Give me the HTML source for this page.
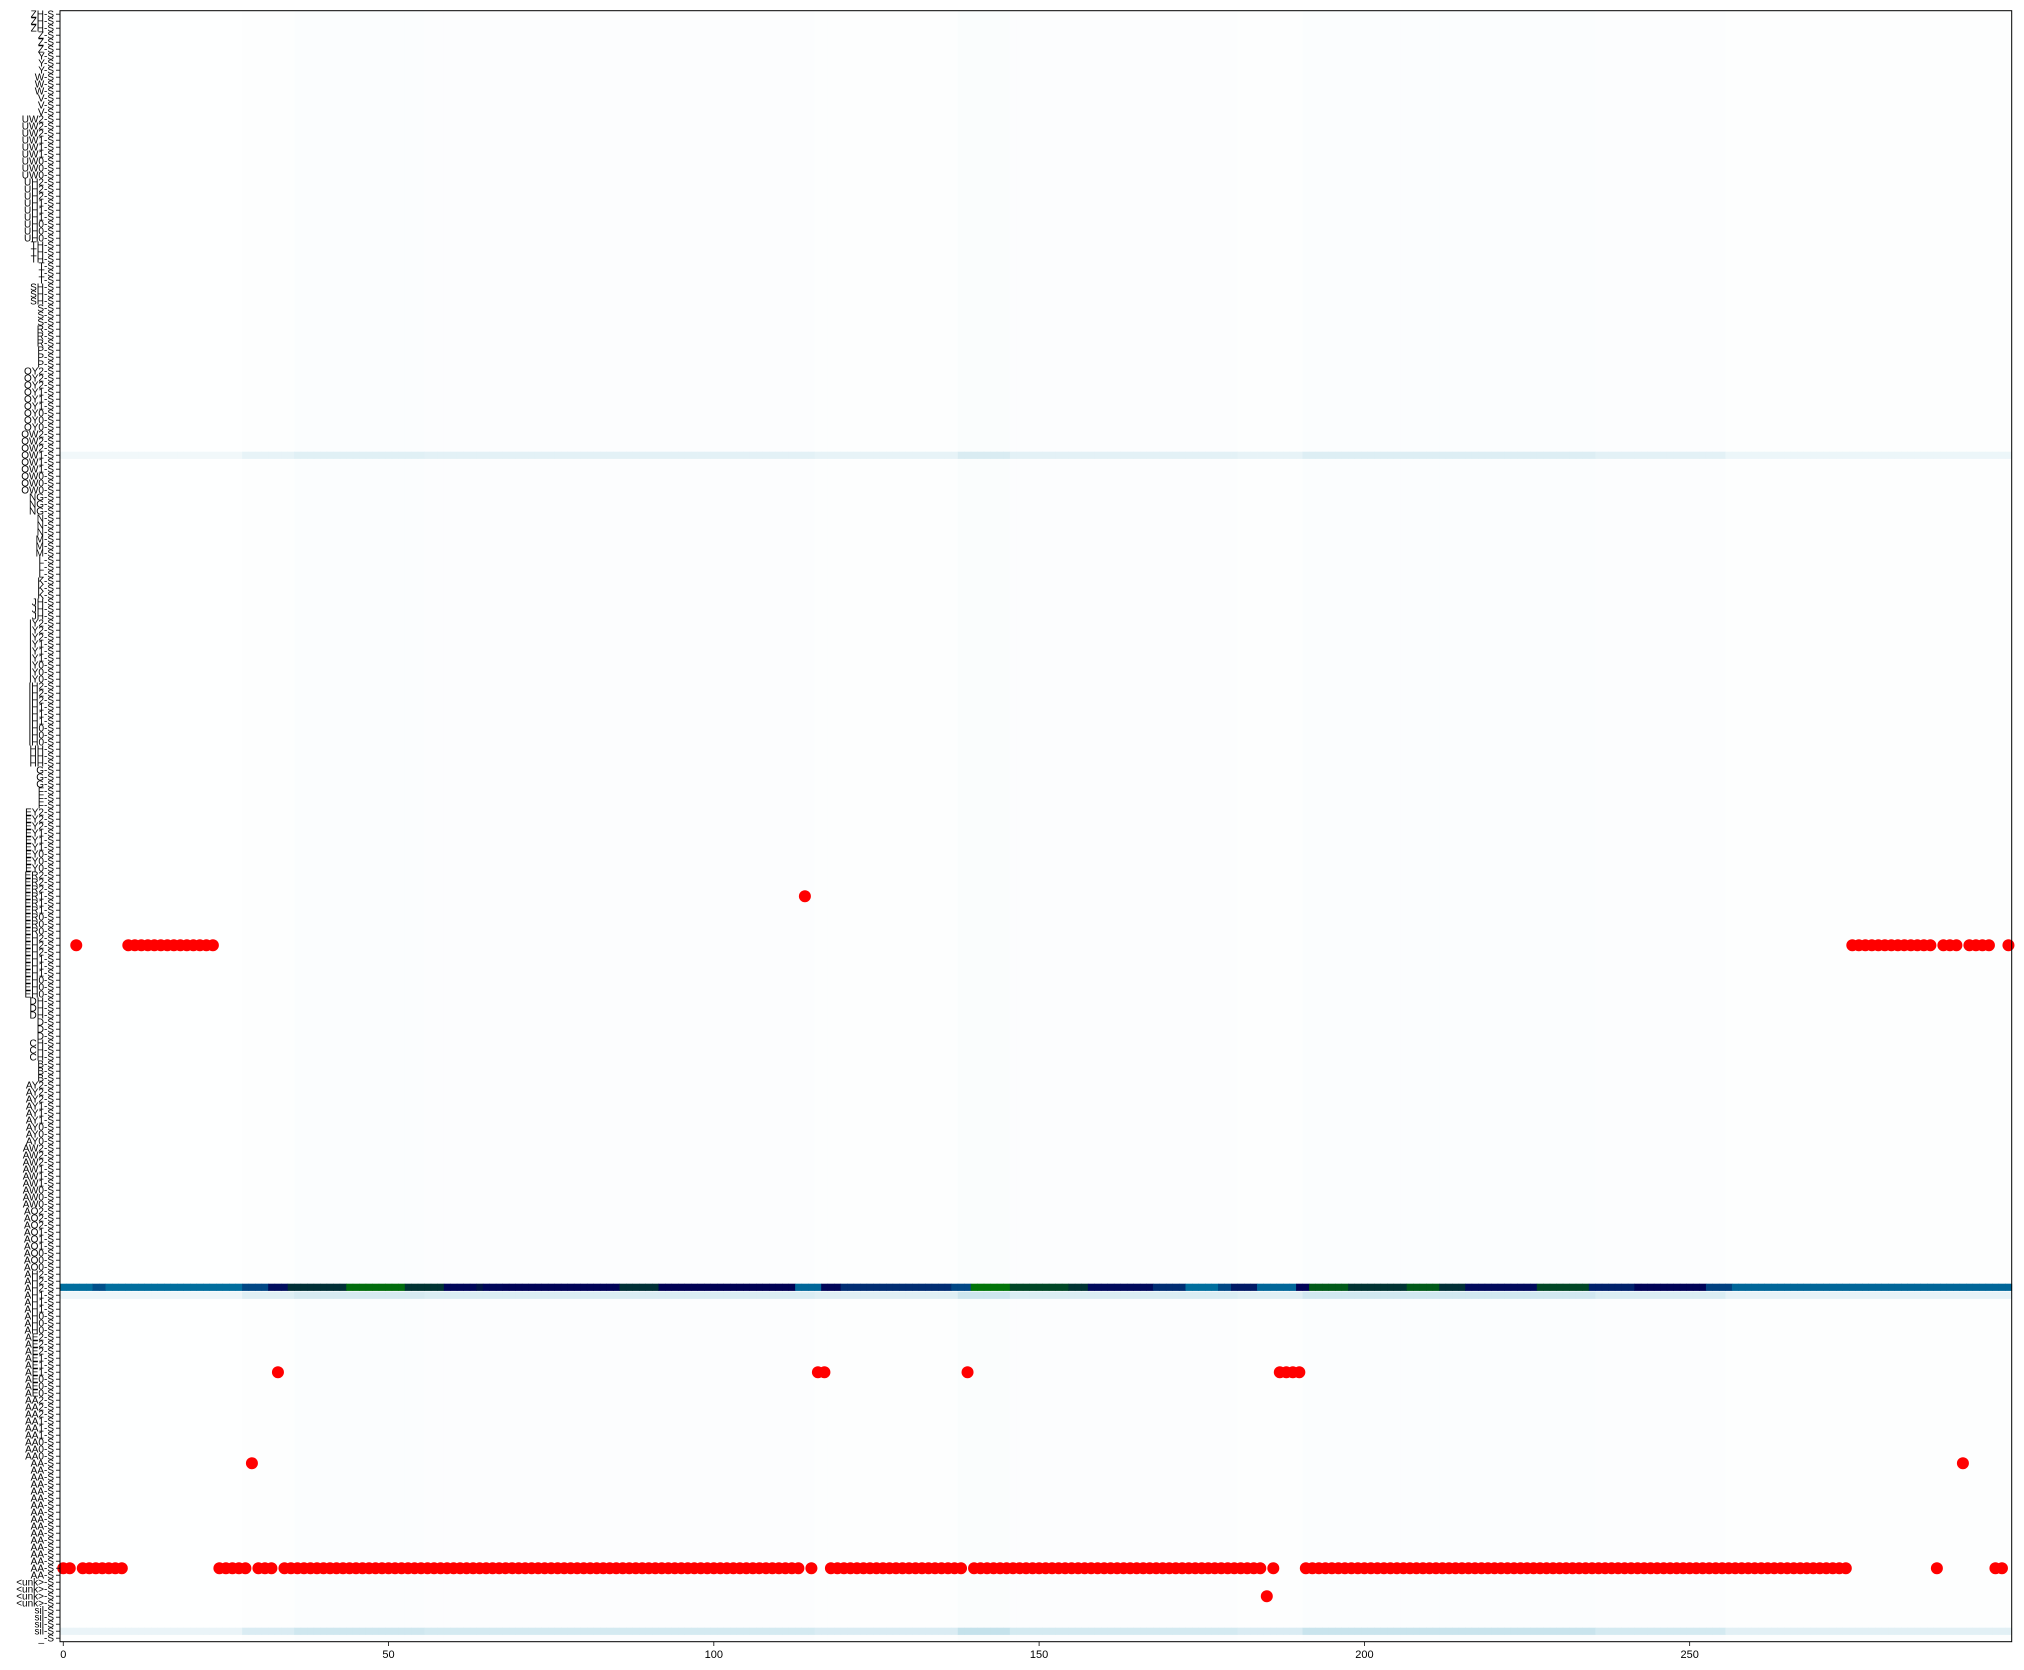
<!DOCTYPE html>
<html><head><meta charset="utf-8"><style>
html,body{margin:0;padding:0;background:#fff;}
svg text{font-family:"Liberation Sans","DejaVu Sans",sans-serif;}
</style></head><body>
<svg id="chart" xmlns="http://www.w3.org/2000/svg" width="2024" height="1665" viewBox="0 0 2024 1665">
<rect width="2024" height="1665" fill="#fff"/>
<g id="bg"></g>
<g id="cells"></g>
<g id="dots"></g>
<g id="yaxis"></g>
<g id="xaxis"></g>
<rect x="60" y="10.7" width="1951.7" height="1631" fill="none" stroke="#000" stroke-width="1"/>
</svg>
<script>
function rep(v,n){return Array(n).fill(v);}
// dark band row values (row 182), one per column
const bandValues = [].concat(
 rep(.38,5),rep(.46,2),rep(.38,21),rep(.48,4),rep(.63,3),rep(.79,9),rep(.95,9),rep(.8,6),
 rep(.65,5),rep(.72,1),rep(.65,3),rep(.66,18),rep(.79,6),rep(.67,21),rep(.40,4),rep(.65,3),
 rep(.55,17),rep(.48,3),rep(.97,6),rep(.85,9),rep(.8,3),rep(.64,10),rep(.55,5),rep(.38,5),
 rep(.48,2),rep(.60,4),rep(.40,6),rep(.66,2),rep(.90,6),rep(.8,9),rep(.90,5),rep(.79,4),
 rep(.64,11),rep(.85,8),rep(.58,7),rep(.66,11),rep(.50,4),rep(.40,43));
// column background level (faint texture)
const colLevel = [].concat(
 rep(.1,28),rep(.4,8),rep(.6,20),rep(.5,60),rep(.4,22),rep(.8,8),rep(.5,35),rep(.4,10),
 rep(.7,45),rep(.5,20),rep(.25,44));
// light rows: row index and intensity
const lightRows = [63,183,231];
const lightRowGain = [0.045,0.06,0.07];
// argmax row per column (red dots)
const argmaxRow = [].concat(
 [222,222,133],rep(222,7),rep(133,14),rep(222,5),[207],rep(222,3),[194],rep(222,80),
 [126,222,194,194],rep(222,21),[194],rep(222,45),[226,222],rep(194,4),rep(222,84),
 rep(133,13),[222],rep(133,3),[207],rep(133,4),[222,222,133]);
const xTicks = [0,50,100,150,200,250];
const vowels=["ZH","Z","Y","W","V","UW2","UW1","UW0","UH2","UH1","UH0","TH","T","SH","S","R","P","OY2","OY1","OY0","OW2","OW1","OW0","NG","N","M","L","K","JH","IY2","IY1","IY0","IH2","IH1","IH0","HH","G","F","EY2","EY1","EY0","ER2","ER1","ER0","EH2","EH1","EH0","DH","D","CH","B","AY2","AY1","AY0","AW2","AW1","AW0","AO2","AO1","AO0","AH2","AH1","AH0","AE2","AE1","AE0","AA2","AA1","AA0","AA"];
const NCOL=300, NROW=233;
let yLabels=[];
vowels.forEach(p=>{for(let k=0;k<3;k++) yLabels.push(p+"-S");});
while(yLabels.length<NROW-9) yLabels.push("AA-S");
yLabels=yLabels.slice(0,NROW-9).concat(["<unk>-S","<unk>-S","<unk>-S","<unk>-S","sil-S","sil-S","sil-S","sil-S","_-S"]);

const X0=60, CW=1951.7/NCOL, Y0=10.7, RH=1631/NROW;
function xPos(c){return X0+c*CW;}
function yPos(r){return Y0+r*RH;}
function oceanR(v){const x=1-Math.max(0,Math.min(1,v));
 const r=Math.max(0,Math.min(1,3*x-2)), g=Math.abs((3*x-1)/2), b=x;
 const h=t=>Math.round(Math.min(1,t)*255);
 return `rgb(${h(r)},${h(g)},${h(b)})`;}
const NS="http://www.w3.org/2000/svg";
function mk(t,a){const e=document.createElementNS(NS,t);for(const k in a)e.setAttribute(k,a[k]);return e;}

const bg=document.getElementById('bg');
colLevel.forEach((lv,c)=>{
 const e=mk('rect',{x:xPos(c),y:Y0,width:CW+0.4,height:1631,fill:oceanR(0.008*lv)});
 
 
 bg.appendChild(e);});
const cells=document.getElementById('cells');
lightRows.forEach((r,i)=>{
 colLevel.forEach((lv,c)=>{
  const e=mk('rect',{x:xPos(c),y:yPos(r),width:CW+0.4,height:RH+0.2,fill:oceanR(lightRowGain[i]*(0.3+lv))});
  
  
  cells.appendChild(e);});});
bandValues.forEach((v,c)=>{
 const e=mk('rect',{x:xPos(c),y:yPos(182)-1,width:CW+0.4,height:RH+0.2,fill:oceanR(v)});
 
 
 cells.appendChild(e);});
const dots=document.getElementById('dots');
argmaxRow.forEach((r,c)=>{
 const e=mk('circle',{cx:xPos(c+0.5),cy:yPos(r+0.5),r:6,fill:'#ff0000'});
 
 
 dots.appendChild(e);});
const ya=document.getElementById('yaxis');
yLabels.forEach((l,r)=>{
 const y=yPos(r+0.5);
 const t=mk('line',{x1:56,x2:60,y1:y,y2:y,stroke:'#000','stroke-width':0.8});
 
 
 ya.appendChild(t);
 const tx=mk('text',{x:54,y:y+3.5,'text-anchor':'end','font-size':10,fill:'#000'});
 tx.textContent=l;
 
 
 ya.appendChild(tx);});
const xa=document.getElementById('xaxis');
xTicks.forEach(v=>{
 const x=xPos(v+0.5);
 const t=mk('line',{x1:x,x2:x,y1:1641.7,y2:1646,stroke:'#000','stroke-width':0.8});
 
 
 xa.appendChild(t);
 const tx=mk('text',{x:x,y:1658,'text-anchor':'middle','font-size':11,fill:'#000'});
 tx.textContent=String(v);
 
 
 xa.appendChild(tx);});
</script>
</body></html>
